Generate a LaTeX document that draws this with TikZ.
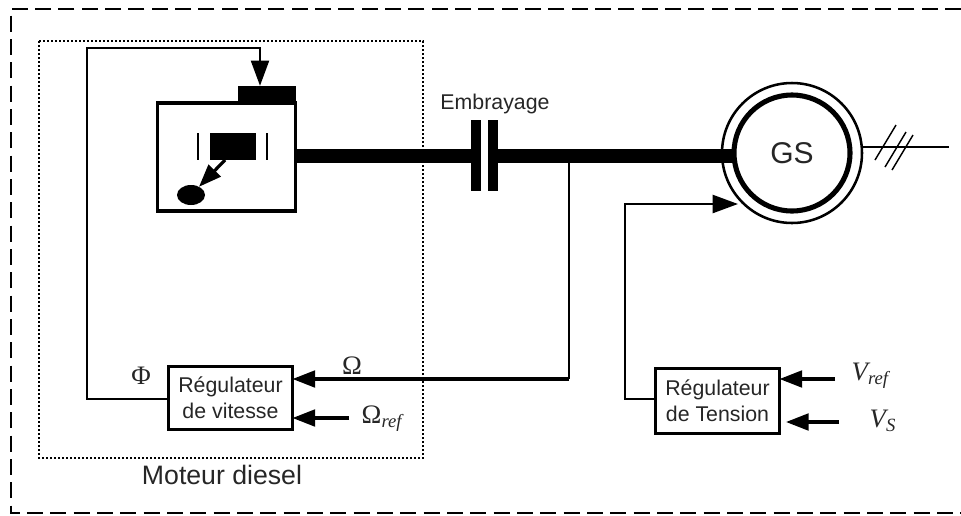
\documentclass[tikz,border=0pt]{standalone}
\usepackage{fontspec}
\setmainfont{Liberation Sans}
\newfontfamily\symbfont{Liberation Serif}
\usetikzlibrary{arrows.meta,shapes.geometric}
\newcommand{\symbtext}[2]{{\symbfont #1\textsubscript{\itshape #2}}}
\tikzset{
  outer/.style={draw=black, line width=1.5pt, dash pattern=on 12pt off 5.5pt},
  dotbox/.style={draw=black, line width=1.5pt, dash pattern=on 1.5pt off 1.5pt},
  wire/.style={draw=black, line width=1.8pt},
  feed/.style={-{Triangle[length=19pt,width=13.5pt]}, draw=black, line width=1.8pt},
  heavyfeed/.style={-{Triangle[length=17pt,width=12.5pt]}, draw=black, line width=2.4pt},
  shaft/.style={draw=black, line width=10.5pt},
  blackbox/.style={draw=none, fill=black, inner sep=0pt, outer sep=0pt},
  regbox/.style={draw=black, text=black!85, line width=2.4pt, inner sep=0pt, outer sep=0pt, align=center, font=\fontsize{16}{19.5}\selectfont, minimum width=93pt},
  label/.style={black!85, font=\fontsize{16}{20}\selectfont},
  symb/.style={black!85, font=\fontsize{20}{24}\selectfont}
}
\begin{document}
\begin{tikzpicture}[x=0.75pt,y=-0.75pt]
  \useasboundingbox (0,0) rectangle (961,515);
  % frames
  \coordinate (FA) at (961,9);
  \coordinate (FB) at (11,9);
  \coordinate (FC) at (11,513);
  \coordinate (FD) at (961,513);
  \draw[outer] (FA)--(FB)--(FC)--(FD);
  \draw[dotbox] (39,41) rectangle (423,458);
  \node[label, font=\fontsize{20}{24}\selectfont] (diesel) at (222,475) {Moteur diesel};
  % engine
  \node[regbox, minimum width=104pt, minimum height=81pt] (motor) at (226.5,157) {};
  \node[blackbox, minimum width=44pt, minimum height=13pt] (actuator) at (267,94.5) {};
  \node[blackbox, minimum width=34.5pt, minimum height=20.5pt] (piston) at (233,146.5) {};
  \node[blackbox, minimum width=2.2pt, minimum height=20.5pt] (barL) at (198,146.5) {};
  \node[blackbox, minimum width=2.2pt, minimum height=20.5pt] (barR) at (267,146.5) {};
  \node[blackbox, ellipse, minimum width=21pt, minimum height=15pt] (valve) at (191,195) {};
  \coordinate (PS) at (225,160);
  \draw[heavyfeed] (PS)--(valve);
  % clutch and generator
  \node[blackbox, minimum width=7.5pt, minimum height=53pt] (clutchL) at (475.5,155.5) {};
  \node[blackbox, minimum width=7.5pt, minimum height=53pt] (clutchR) at (492.5,155.5) {};
  \node[label] (clutchlab) at (495,104) {Embrayage};
  \node[circle, draw=black, line width=1.9pt, inner sep=0pt, outer sep=0pt, minimum size=105pt] (gsout) at (792,153) {};
  \node[circle, draw=black, text=black!85, line width=3.8pt, inner sep=0pt, outer sep=0pt, minimum size=87pt, font=\fontsize{22.5}{26}\selectfont] (gs) at (792,153) {GS};
  \draw[shaft] (motor.east |- clutchL)--(clutchL);
  \draw[shaft] (clutchR.east)--(gs.west |- clutchR);
  % output
  \coordinate (OUT) at (949,147);
  \draw[wire] (gsout.east |- OUT)--(OUT);
  \foreach \x/\y in {875/160,885/167,892/170}
    \draw[draw=black, line width=1.1pt] (\x,\y)--++(21,-35);
  % speed loop
  \node[regbox, minimum height=47pt] (regv) at (230.5,398) {Régulateur\\de vitesse};
  \coordinate (TAP) at (569,162);
  \coordinate (TAPB) at (569,379);
  \coordinate (SL) at (87,399);
  \coordinate (ST) at (87,48);
  \coordinate (SR) at (260,48);
  \coordinate (OMR) at (349,418);
  \draw[wire] (TAP)--(TAPB);
  \draw[heavyfeed] (TAPB)--(regv.east |- TAPB);
  \draw[heavyfeed] (OMR)--(regv.east |- OMR);
  \draw[feed] (regv.west |- SL)--(SL)--(ST)--(SR)--(SR |- actuator.north);
  \node[symb] (omega) at (352,366) {\symbfont Ω};
  \node[symb, anchor=west] (omegaref) at (357,419) {\symbtext{Ω}{ref}};
  \node[symb] (phi) at (141,376) {\symbfont Φ};
  % voltage loop
  \node[regbox, minimum height=48.5pt] (regt) at (717.5,401) {Régulateur\\de Tension};
  \coordinate (TL) at (625,399);
  \coordinate (TT) at (625,204);
  \coordinate (TR) at (738,204);
  \coordinate (VA) at (835,379);
  \coordinate (VB) at (839,422);
  \draw[feed] (regt.west |- TL)--(TL)--(TT)--(TR);
  \draw[heavyfeed] (VA)--(regt.east |- VA);
  \draw[heavyfeed] (VB)--(786,422);
  \node[symb, anchor=west] (vref) at (847,376) {\symbtext{\itshape V}{ref}};
  \node[symb, anchor=west] (vs) at (865,421) {\symbtext{\itshape V}{S}};
\end{tikzpicture}
\end{document}
